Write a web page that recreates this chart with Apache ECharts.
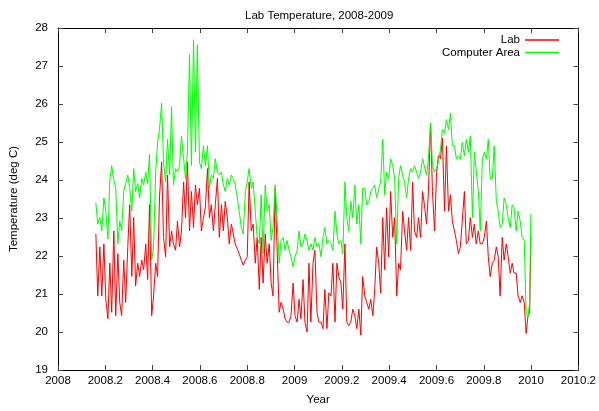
<!DOCTYPE html>
<html>
<head>
<meta charset="utf-8">
<script src="https://cdn.jsdelivr.net/npm/echarts@6/dist/echarts.min.js"></script>
<style>
html,body{margin:0;padding:0;background:#fff;}
#chart{width:599px;height:411px;}
</style>
</head>
<body>
<div id="chart"></div>
<script>
// Sample times (fractional year)
var years = [
2008.160,2008.168,2008.177,2008.185,2008.194,2008.202,2008.211,2008.219,2008.227,2008.236,
2008.244,2008.253,2008.261,2008.269,2008.278,2008.286,2008.295,2008.303,2008.312,2008.320,
2008.328,2008.337,2008.345,2008.354,2008.362,2008.371,2008.379,2008.387,2008.396,2008.404,
2008.413,2008.421,2008.429,2008.438,2008.446,2008.455,2008.463,2008.472,2008.480,2008.488,
2008.497,2008.505,2008.514,2008.522,2008.531,2008.539,2008.547,2008.556,2008.564,2008.573,
2008.581,2008.589,2008.598,2008.606,2008.615,2008.623,2008.632,2008.640,2008.648,2008.657,
2008.665,2008.674,2008.682,2008.691,2008.699,2008.707,2008.716,2008.724,2008.733,2008.741,
2008.749,2008.758,2008.766,2008.775,2008.783,2008.792,2008.800,2008.808,2008.817,2008.825,
2008.834,2008.842,2008.851,2008.859,2008.867,2008.876,2008.884,2008.893,2008.901,2008.909,
2008.918,2008.926,2008.935,2008.943,2008.952,2008.960,2008.968,2008.977,2008.985,2008.994,
2009.002,2009.011,2009.019,2009.027,2009.036,2009.044,2009.053,2009.061,2009.069,2009.078,
2009.086,2009.095,2009.103,2009.112,2009.120,2009.128,2009.137,2009.145,2009.154,2009.162,
2009.171,2009.179,2009.187,2009.196,2009.204,2009.213,2009.221,2009.229,2009.238,2009.246,
2009.255,2009.263,2009.272,2009.280,2009.288,2009.297,2009.305,2009.314,2009.322,2009.331,
2009.339,2009.347,2009.356,2009.364,2009.373,2009.381,2009.389,2009.398,2009.406,2009.415,
2009.423,2009.432,2009.440,2009.448,2009.457,2009.465,2009.474,2009.482,2009.491,2009.499,
2009.507,2009.516,2009.524,2009.533,2009.541,2009.549,2009.558,2009.566,2009.575,2009.583,
2009.592,2009.600,2009.608,2009.617,2009.625,2009.634,2009.642,2009.651,2009.659,2009.667,
2009.676,2009.684,2009.693,2009.701,2009.709,2009.718,2009.726,2009.735,2009.743,2009.752,
2009.760,2009.768,2009.777,2009.785,2009.794,2009.802,2009.811,2009.819,2009.827,2009.836,
2009.844,2009.853,2009.861,2009.869,2009.878,2009.886,2009.895,2009.903,2009.912,2009.920,
2009.928,2009.937,2009.945,2009.954,2009.962,2009.971,2009.979,2009.987,2009.994,2009.999
];

// Lab temperature (deg C)
var lab = [
22.58,20.95,22.24,20.95,22.32,20.86,20.35,21.81,20.52,22.66,
20.43,22.06,20.78,20.43,21.89,20.78,22.24,23.35,21.46,23.01,
21.21,21.81,21.46,21.89,21.64,22.32,21.38,23.35,20.43,20.95,
21.81,21.46,23.53,24.47,22.49,21.98,24.13,22.24,22.66,22.32,
22.15,22.92,22.24,22.66,23.95,23.01,24.47,22.66,23.70,22.75,
23.87,23.35,23.78,22.66,23.01,23.27,24.30,23.01,23.35,22.66,
23.35,24.04,22.49,23.35,22.66,23.44,23.01,22.32,22.84,22.58,
22.32,22.19,22.06,21.89,21.76,21.89,21.98,23.95,22.66,22.84,
21.81,22.49,21.12,22.49,21.29,22.58,21.81,22.32,21.29,20.95,
23.78,22.24,20.52,20.78,20.60,20.35,20.26,20.26,20.43,21.29,
20.43,20.26,20.86,20.35,21.38,20.26,20.00,21.81,20.26,21.81,
22.15,20.52,20.26,20.26,20.09,21.12,20.09,21.03,20.95,21.81,
20.26,21.81,21.46,21.29,20.60,22.32,20.26,20.17,20.26,20.60,
20.43,20.09,20.60,19.92,21.46,20.95,20.78,20.60,20.86,20.43,
21.12,22.24,21.81,21.03,23.01,21.64,23.27,21.98,23.70,22.49,
23.01,20.95,21.81,21.64,23.18,22.66,22.15,23.01,22.15,23.95,
22.66,22.49,23.01,22.49,23.70,23.35,22.84,23.70,25.50,23.70,
22.66,24.13,24.64,24.56,25.10,23.18,24.90,23.18,23.61,22.92,
22.66,22.41,22.06,22.24,22.24,23.70,22.32,22.41,23.01,22.49,
22.84,22.32,22.66,22.32,22.32,22.49,22.92,21.98,21.46,21.81,
21.89,22.24,21.98,20.95,22.49,21.89,22.32,21.98,21.55,21.81,
21.55,21.55,20.95,20.78,20.95,20.78,19.96,20.43,20.52,22.50
];

// Computer Area temperature (deg C)
var computerArea = [
23.40,22.84,23.01,22.66,23.53,23.18,22.45,24.00,24.38,24.00,
23.78,22.32,22.92,22.66,23.70,23.91,24.13,23.78,23.18,24.30,
23.70,23.91,23.53,24.04,23.87,24.21,23.91,24.68,21.89,22.24,
24.21,24.99,25.33,26.02,24.47,23.95,25.07,24.13,25.93,23.87,
24.30,24.21,24.38,25.16,24.56,24.04,24.73,27.30,24.38,27.69,
24.73,27.56,24.47,24.30,24.90,24.38,24.90,23.78,24.13,24.04,
24.56,24.21,24.13,24.21,23.87,23.70,24.04,23.87,24.13,24.04,
23.87,23.53,23.18,22.75,22.58,23.70,23.95,24.30,23.78,23.95,
23.18,22.49,22.32,23.61,22.06,23.87,23.18,23.35,22.41,22.75,
23.87,23.01,21.81,22.41,22.49,22.15,22.41,22.15,21.98,21.72,
21.98,22.15,22.66,22.24,22.32,22.58,22.41,22.15,22.32,22.15,
22.49,22.24,22.32,21.98,22.49,22.75,22.32,22.41,22.32,22.15,
23.18,22.58,22.32,22.41,22.06,23.95,23.01,22.66,23.44,23.01,
23.87,22.84,23.35,22.32,23.78,23.78,23.35,23.44,23.70,23.78,
23.87,23.53,23.78,23.95,25.07,23.61,24.21,24.04,24.56,24.38,
24.04,22.32,24.04,24.38,24.13,23.95,23.53,24.04,24.30,24.21,
24.38,24.21,24.04,24.21,24.56,24.56,24.13,24.56,25.50,24.38,
24.21,24.30,24.47,24.81,25.33,25.24,25.59,25.33,25.76,24.90,
24.90,24.56,24.64,24.56,24.99,24.64,25.07,24.73,25.16,23.01,
24.73,24.73,23.70,22.66,24.56,24.73,24.56,25.07,24.04,24.04,
24.90,23.44,23.18,22.75,22.84,23.53,23.35,23.01,22.75,23.35,
23.27,22.66,23.18,22.92,22.49,22.41,20.50,20.40,20.80,23.10
];

var seriesNames = ['Lab', 'Computer Area'];
var titleText = 'Lab Temperature, 2008-2009';
var xName = 'Year';
var yName = 'Temperature (deg C)';

var FONT = '"Liberation Sans", Arial, sans-serif';
var FS = 11.5;

function pairs(vals) { return years.map(function (y, i) { return [y, vals[i]]; }); }
function fmt(v) { return String(+v.toFixed(1)); }

var chart = echarts.init(document.getElementById('chart'), null, { renderer: 'canvas' });

var tickStyle = { show: true, inside: true, length: 5, lineStyle: { color: '#444', width: 1 } };
var lineStyleAxis = { show: true, onZero: false, lineStyle: { color: '#000', width: 1 } };

chart.setOption({
  animation: false,
  backgroundColor: '#fff',
  textStyle: { fontFamily: FONT },
  title: {
    text: titleText,
    left: 240, top: 5,
    textStyle: { fontFamily: FONT, fontSize: FS, fontWeight: 'normal', color: '#000' }
  },
  legend: {
    data: seriesNames,
    orient: 'vertical',
    align: 'right',
    right: 35, top: 29,
    icon: 'rect',
    itemWidth: 34, itemHeight: 1.5,
    itemGap: 0.5,
    textStyle: { fontFamily: FONT, fontSize: FS, color: '#000', lineHeight: 12 }
  },
  grid: { left: 55, right: 20, top: 28, bottom: 33, containLabel: false },
  xAxis: [{
    type: 'value', min: 2008, max: 2010.2, interval: 0.2,
    name: xName, nameLocation: 'middle', nameGap: 24,
    nameTextStyle: { fontFamily: FONT, fontSize: FS, color: '#000' },
    axisLine: lineStyleAxis, axisTick: tickStyle, splitLine: { show: false },
    axisLabel: { formatter: fmt, margin: 5, fontFamily: FONT, fontSize: FS, color: '#000', showMinLabel: true, showMaxLabel: true }
  }, {
    type: 'value', position: 'top', min: 2008, max: 2010.2, interval: 0.2,
    axisLine: lineStyleAxis, axisTick: tickStyle, splitLine: { show: false },
    axisLabel: { show: false }
  }],
  yAxis: [{
    type: 'value', min: 19, max: 28, interval: 1,
    name: yName, nameLocation: 'middle', nameGap: 38, nameRotate: 90,
    nameTextStyle: { fontFamily: FONT, fontSize: FS, color: '#000' },
    axisLine: lineStyleAxis, axisTick: tickStyle, splitLine: { show: false },
    axisLabel: { margin: 10, fontFamily: FONT, fontSize: FS, color: '#000', showMinLabel: true, showMaxLabel: true }
  }, {
    type: 'value', position: 'right', min: 19, max: 28, interval: 1,
    axisLine: lineStyleAxis, axisTick: tickStyle, splitLine: { show: false },
    axisLabel: { show: false }
  }],
  series: [{
    name: seriesNames[0], type: 'line', data: pairs(lab),
    xAxisIndex: 0, yAxisIndex: 0,
    showSymbol: false, symbol: 'none',
    color: '#ff0000',
    lineStyle: { color: '#ff0000', width: 1 }
  }, {
    name: seriesNames[1], type: 'line', data: pairs(computerArea),
    xAxisIndex: 0, yAxisIndex: 0,
    showSymbol: false, symbol: 'none',
    color: '#00ff00',
    lineStyle: { color: '#00ff00', width: 1 }
  }]
});
</script>
</body>
</html>
